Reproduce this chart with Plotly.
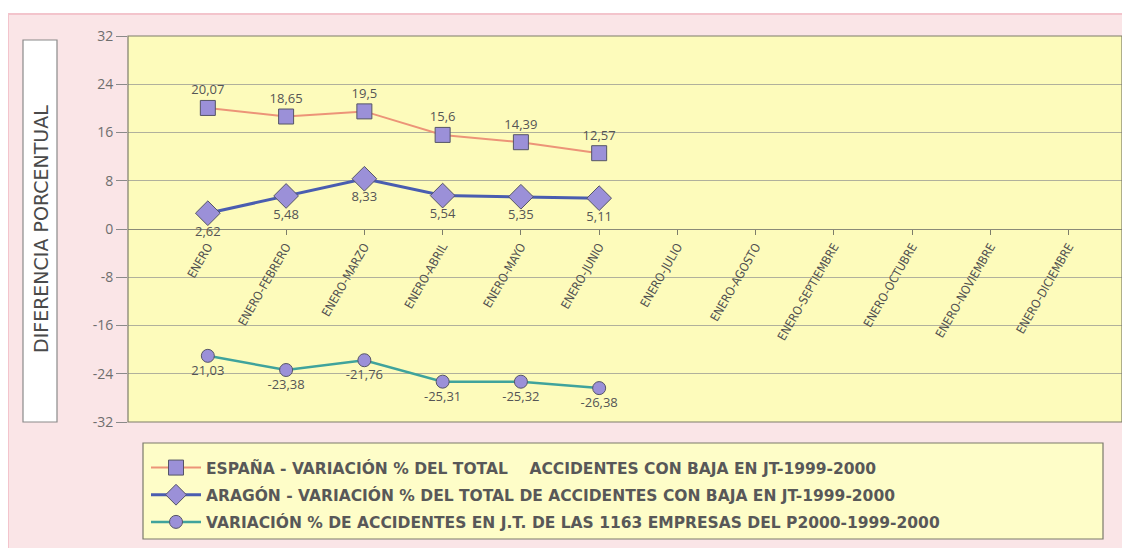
import plotly.graph_objects as go

categories = ["ENERO", "ENERO-FEBRERO", "ENERO-MARZO", "ENERO-ABRIL", "ENERO-MAYO",
              "ENERO-JUNIO", "ENERO-JULIO", "ENERO-AGOSTO", "ENERO-SEPTIEMBRE",
              "ENERO-OCTUBRE", "ENERO-NOVIEMBRE", "ENERO-DICIEMBRE"]

espana = [20.07, 18.65, 19.5, 15.6, 14.39, 12.57]
espana_labels = ["20,07", "18,65", "19,5", "15,6", "14,39", "12,57"]

aragon = [2.62, 5.48, 8.33, 5.54, 5.35, 5.11]
aragon_labels = ["2,62", "5,48", "8,33", "5,54", "5,35", "5,11"]

empresas = [-21.03, -23.38, -21.76, -25.31, -25.32, -26.38]
empresas_labels = ["21,03", "-23,38", "-21,76", "-25,31", "-25,32", "-26,38"]

series_names = [
    "ESPAÑA - VARIACIÓN % DEL TOTAL \u00a0\u00a0\u00a0ACCIDENTES CON BAJA EN JT-1999-2000",
    "ARAGÓN - VARIACIÓN % DEL TOTAL DE ACCIDENTES CON BAJA EN JT-1999-2000",
    "VARIACIÓN % DE ACCIDENTES EN J.T. DE LAS 1163 EMPRESAS DEL P2000-1999-2000",
]

y_ticks = [32, 24, 16, 8, 0, -8, -16, -24, -32]

# page offset (browser body margin)
OFF = 8
W, H = 1130, 548
# plot area in screenshot pixels: x 128..1122, y 36..422
ML = 128 - OFF
MT = 36 - OFF
MR = W - (1122 - OFF)
MB = H - (422 - OFF)
PW, PH = W - ML - MR, H - MT - MB


def px_x(p):
    return (p - OFF - ML) / PW


def px_y(p):
    return (H - MB - (p - OFF)) / PH


marker_fill = "#9b90d8"
marker_line = dict(color="#555566", width=1)
label_font = dict(family="Open Sans", size=13, color="#555555")

fig = go.Figure()

fig.add_trace(go.Scatter(
    x=list(range(len(espana))), y=espana, mode="lines+markers+text", name=series_names[0],
    legendgroup="a",
    text=espana_labels, textposition="top center", textfont=label_font,
    line=dict(color="#ec9478", width=2),
    marker=dict(symbol="square", size=15, color=marker_fill, line=marker_line),
))
fig.add_trace(go.Scatter(
    x=list(range(len(aragon))), y=aragon, mode="lines+markers+text", name=series_names[1],
    legendgroup="b",
    text=aragon_labels, textposition="bottom center", textfont=label_font,
    line=dict(color="#4a5db0", width=3),
    marker=dict(symbol="diamond", size=19, color=marker_fill, line=marker_line),
))
fig.add_trace(go.Scatter(
    x=list(range(len(empresas))), y=empresas, mode="lines+markers+text", name=series_names[2],
    legendgroup="c",
    text=empresas_labels, textposition="bottom center", textfont=label_font,
    line=dict(color="#3fa39c", width=2.5),
    marker=dict(symbol="circle", size=13, color=marker_fill, line=marker_line),
))

shapes = [
    # pink background
    dict(type="rect", xref="paper", yref="paper", layer="below",
         x0=px_x(8), x1=px_x(1140), y0=px_y(14), y1=px_y(560),
         fillcolor="#fae5e7", line=dict(color="#f3c4cc", width=2)),
    # plot area
    dict(type="rect", xref="paper", yref="paper", layer="below",
         x0=0, x1=1, y0=0, y1=1,
         fillcolor="#fdfbbb", line=dict(width=0)),
    # title box
    dict(type="rect", xref="paper", yref="paper", layer="below",
         x0=px_x(23), x1=px_x(57), y0=px_y(40), y1=px_y(422),
         fillcolor="#ffffff", line=dict(color="#8a8a8a", width=1.2)),
    # legend box
    dict(type="rect", xref="paper", yref="paper", layer="below",
         x0=px_x(143), x1=px_x(1103), y0=px_y(443), y1=px_y(539),
         fillcolor="#fefdc8", line=dict(color="#7a7a6a", width=1.2)),
    # plot border
    dict(type="rect", xref="paper", yref="paper", layer="above",
         x0=0, x1=1, y0=0, y1=1,
         line=dict(color="#7d7d6a", width=1.2)),
]

fig.update_layout(
    width=W, height=H,
    margin=dict(l=ML, r=MR, t=MT, b=MB, autoexpand=False),
    paper_bgcolor="#ffffff",
    plot_bgcolor="rgba(0,0,0,0)",
    shapes=shapes,
    showlegend=True,
    legend=dict(
        x=px_x(146), y=px_y(451), xanchor="left", yanchor="top",
        bgcolor="rgba(0,0,0,0)", borderwidth=0,
        font=dict(family="DejaVu Sans", size=15.5, color="#585858", weight="bold"),
        tracegroupgap=4, itemwidth=50,
    ),
    annotations=[
        dict(text="DIFERENCIA PORCENTUAL", xref="paper", yref="paper",
             x=px_x(28), y=px_y(229), showarrow=False, textangle=-90,
             font=dict(family="DejaVu Sans", size=19, color="#4a4a4a")),
    ],
)

fig.update_yaxes(
    range=[-32, 32], tickvals=y_ticks, ticktext=[str(v) for v in y_ticks],
    showgrid=True, gridcolor="#b0b09c", gridwidth=1,
    zeroline=True, zerolinecolor="#8a8a78", zerolinewidth=1.2,
    ticks="outside", ticklen=11, tickcolor="#8a8a8a", tickwidth=1,
    tickfont=dict(family="Open Sans", size=14, color="#6e6e6e"),
    showline=False,
)

fig.update_xaxes(
    range=[-1.02, 11.68],
    tickvals=list(range(len(categories))), ticktext=categories,
    tickangle=-60, anchor="free", position=0.5,
    ticks="outside", ticklen=5, tickcolor="#7d7d6a",
    tickfont=dict(family="DejaVu Sans Condensed", size=12, color="#505050"),
    showgrid=False, zeroline=False, showline=False,
)

fig.write_html("out.html")
